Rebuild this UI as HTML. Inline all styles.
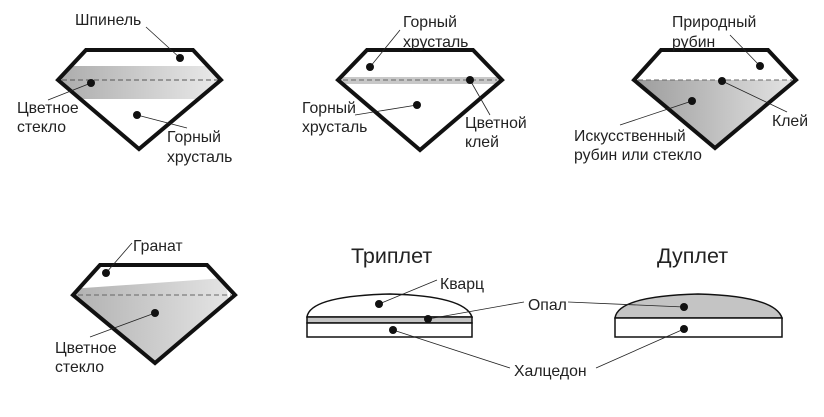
<!DOCTYPE html>
<html><head><meta charset="utf-8"><style>
html,body{margin:0;padding:0;background:#fff;}
svg{display:block;}
text{font-family:"Liberation Sans","DejaVu Sans",sans-serif;font-size:15.8px;fill:#222;}
</style></head><body>
<svg width="824" height="417" viewBox="0 0 824 417" xmlns="http://www.w3.org/2000/svg">
<defs>
<linearGradient id="g1" x1="0" x2="1" y1="0" y2="0"><stop offset="0" stop-color="#a8a8a8"/><stop offset="1" stop-color="#eeeeee"/></linearGradient>
<linearGradient id="g3" x1="0" x2="1" y1="0" y2="0"><stop offset="0" stop-color="#9a9a9a"/><stop offset="1" stop-color="#e6e6e6"/></linearGradient>
<linearGradient id="g4" x1="0" x2="1" y1="0" y2="0"><stop offset="0" stop-color="#b0b0b0"/><stop offset="1" stop-color="#e8e8e8"/></linearGradient>
<clipPath id="c1"><polygon points="86,50 193,50 221,80 139,149 58,80"/></clipPath>
<clipPath id="c2"><polygon points="367,50 473,50 502,80 420,150 338,80"/></clipPath>
<clipPath id="c3"><polygon points="661,50 768,50 796,80 715,148 634,80"/></clipPath>
<clipPath id="c4"><polygon points="100,265 207,265 235,295 155,363 73,295"/></clipPath>
</defs>
<g stroke="#111" fill="none">
<rect x="50" y="66" width="180" height="33" fill="url(#g1)" stroke="none" clip-path="url(#c1)"/>
<line x1="62" y1="80" x2="218" y2="80" stroke="#555" stroke-dasharray="5,3" stroke-width="1"/>
<polygon points="86,50 193,50 221,80 139,149 58,80" stroke-width="4" stroke-linejoin="miter"/>
<rect x="330" y="77" width="180" height="7" fill="#c8c8c8" stroke="none" clip-path="url(#c2)"/>
<line x1="343" y1="80" x2="497" y2="80" stroke="#666" stroke-dasharray="5,3" stroke-width="1"/>
<polygon points="367,50 473,50 502,80 420,150 338,80" stroke-width="4"/>
<rect x="630" y="80" width="170" height="70" fill="url(#g3)" stroke="none" clip-path="url(#c3)"/>
<line x1="638" y1="80" x2="792" y2="80" stroke="#666" stroke-dasharray="5,3" stroke-width="1"/>
<polygon points="661,50 768,50 796,80 715,148 634,80" stroke-width="4"/>
<polygon points="70,289 225,278 240,370 70,370" fill="url(#g4)" stroke="none" clip-path="url(#c4)"/>
<line x1="78" y1="295" x2="231" y2="295" stroke="#666" stroke-dasharray="5,3" stroke-width="1"/>
<polygon points="100,265 207,265 235,295 155,363 73,295" stroke-width="4"/>
<path d="M307,317 Q310,296 390,294 Q465,296 472,317 Z" fill="#fff" stroke-width="1.5"/>
<rect x="307" y="317" width="165" height="6" fill="#c4c4c4" stroke-width="1.5"/>
<rect x="307" y="323" width="165" height="14" fill="#fff" stroke-width="1.5"/>
<path d="M615,318 Q618,296 698,294 Q775,296 782,318 Z" fill="#c4c4c4" stroke-width="1.5"/>
<rect x="615" y="318" width="167" height="19" fill="#fff" stroke-width="1.5"/>
</g>
<g stroke="#222" stroke-width="0.8">
<line x1="180" y1="58" x2="146" y2="27"/>
<line x1="91" y1="83" x2="48" y2="100"/>
<line x1="137" y1="115" x2="187" y2="128"/>
<line x1="370" y1="67" x2="400" y2="30"/>
<line x1="417" y1="105" x2="355" y2="115"/>
<line x1="470" y1="80" x2="490" y2="115"/>
<line x1="760" y1="66" x2="730" y2="35"/>
<line x1="722" y1="81" x2="787" y2="112"/>
<line x1="692" y1="101" x2="620" y2="125"/>
<line x1="106" y1="273" x2="132" y2="243"/>
<line x1="155" y1="313" x2="90" y2="337"/>
<line x1="379" y1="304" x2="437" y2="280"/>
<line x1="428" y1="319" x2="524" y2="302"/>
<line x1="684" y1="307" x2="568" y2="302"/>
<line x1="393" y1="330" x2="510" y2="368"/>
<line x1="684" y1="329" x2="596" y2="368"/>
</g>
<g fill="#111">
<circle cx="180" cy="58" r="4"/><circle cx="91" cy="83" r="4"/><circle cx="137" cy="115" r="4"/>
<circle cx="370" cy="67" r="4"/><circle cx="470" cy="80" r="4"/><circle cx="417" cy="105" r="4"/>
<circle cx="760" cy="66" r="4"/><circle cx="722" cy="81" r="4"/><circle cx="692" cy="101" r="4"/>
<circle cx="106" cy="273" r="4"/><circle cx="155" cy="313" r="4"/>
<circle cx="379" cy="304" r="4"/><circle cx="428" cy="319" r="4"/><circle cx="393" cy="330" r="4"/>
<circle cx="684" cy="307" r="4"/><circle cx="684" cy="329" r="4"/>
</g>
<text x="75" y="25">Шпинель</text>
<text x="17" y="113">Цветное</text><text x="17" y="132">стекло</text>
<text x="167" y="142">Горный</text><text x="167" y="162">хрусталь</text>
<text x="403" y="27">Горный</text><text x="403" y="47">хрусталь</text>
<text x="302" y="113">Горный</text><text x="302" y="132">хрусталь</text>
<text x="465" y="128">Цветной</text><text x="465" y="147">клей</text>
<text x="672" y="27">Природный</text><text x="672" y="47">рубин</text>
<text x="772" y="126">Клей</text>
<text x="574" y="141">Искусственный</text><text x="574" y="160">рубин или стекло</text>
<text x="133" y="251">Гранат</text>
<text x="55" y="353">Цветное</text><text x="55" y="372">стекло</text>
<text x="351" y="263" style="font-size:21.5px">Триплет</text>
<text x="657" y="263" style="font-size:21.5px">Дуплет</text>
<text x="440" y="289">Кварц</text>
<text x="528" y="310">Опал</text>
<text x="514" y="376">Халцедон</text>
</svg>
</body></html>
